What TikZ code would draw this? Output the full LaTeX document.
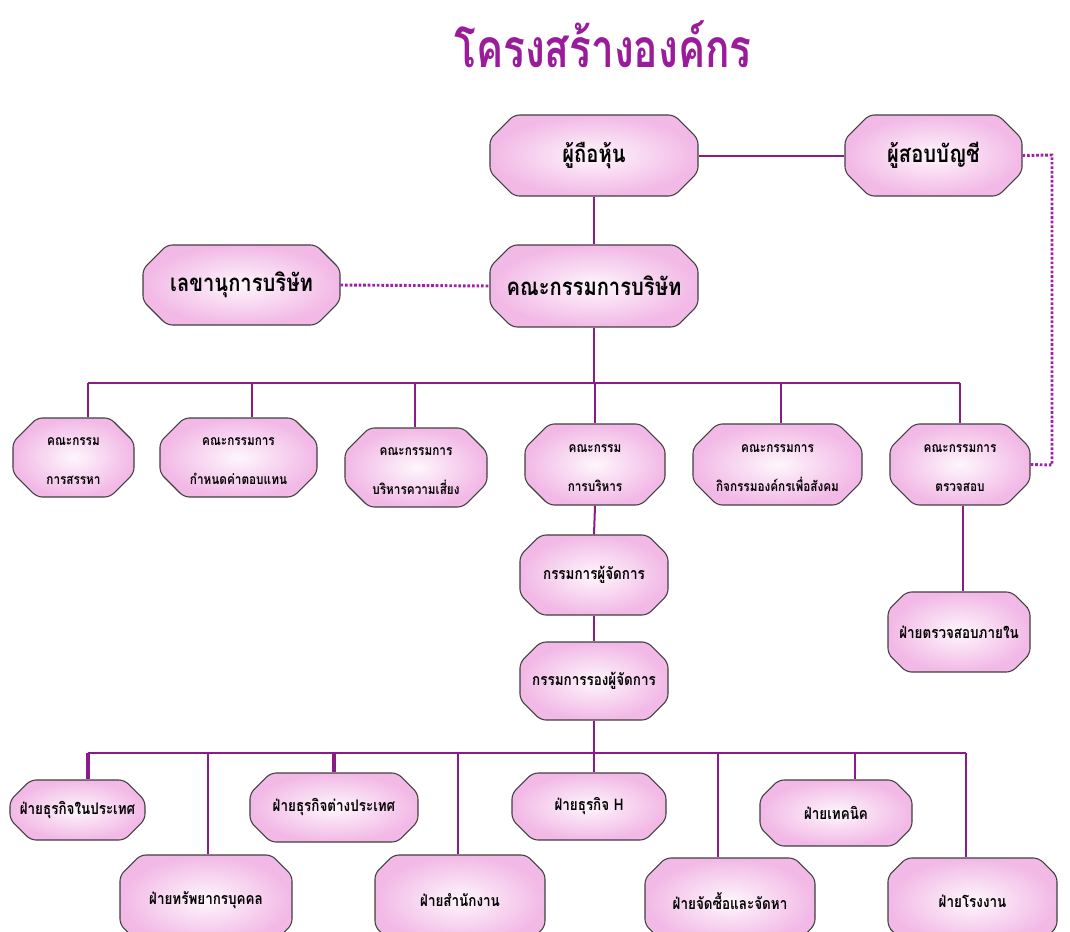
\documentclass[tikz,border=0pt]{standalone}
\usepackage{fontspec}
\newfontfamily\thai[Script=Thai]{Loma}
\newfontfamily\thaic[Script=Thai,FakeStretch=0.84]{Loma}
\newfontfamily\thaiT[Script=Thai,FakeStretch=0.76]{Loma}
\usetikzlibrary{shapes.misc}
\definecolor{linepurple}{HTML}{8B1A8B}
\definecolor{dotpurple}{HTML}{A020A8}
\definecolor{boxpink}{HTML}{F2B8E6}
\definecolor{titlepurple}{HTML}{9A1C9A}
\tikzset{
  box/.style={chamfered rectangle, chamfered rectangle xsep=9pt, chamfered rectangle ysep=9pt,
    rounded corners=4pt, draw=black!75, line width=0.8pt,
    inner color=white!88!boxpink, outer color=boxpink, inner sep=0pt,
    align=center},
  big/.style={font=\thaic\bfseries\fontsize{18}{22}\selectfont},
  comm/.style={font=\thaic\bfseries\fontsize{10.5}{12}\selectfont, text height=40pt},
  mid/.style={font=\thaic\bfseries\fontsize{12}{14}\selectfont},
  conn/.style={draw=linepurple, line width=1.5pt},
  busline/.style={draw=linepurple, line width=2pt},
  thickdrop/.style={draw=linepurple, line width=2.6pt},
  dotconn/.style={draw=dotpurple, line width=2.2pt, dash pattern=on 2pt off 1.4pt},
}
\newcommand\orgbox[7][]{%
  \pgfmathsetmacro\obw{(#5-#3)*0.75}%
  \pgfmathsetmacro\obh{(#6-#4)*0.75}%
  \node[box,minimum width=\obw pt,minimum height=\obh pt,#1] (#2) at ({(#3+#5)/2},{(#4+#6)/2}) {#7};}
\begin{document}
\begin{tikzpicture}[x=0.75pt,y=-0.75pt]
\clip (0,0) rectangle (1070,931);
\fill[white] (0,0) rectangle (1070,931);
% title
\node[font=\thaiT\bfseries\fontsize{40}{44}\selectfont, text=titlepurple] (title) at (603,44) {โครงสร้างองค์กร};
% top
\orgbox[big]{sh}{490}{115}{698}{196}{ผู้ถือหุ้น}
\orgbox[big]{aud}{845}{115}{1022}{196}{ผู้สอบบัญชี}
\orgbox[big]{sec}{143}{245}{340}{325}{เลขานุการบริษัท}
\orgbox[big]{board}{490}{245}{698}{327}{คณะกรรมการบริษัท}
% committees
\orgbox[comm]{c1}{13}{418}{134}{497}{คณะกรรม\\[17pt]การสรรหา}
\orgbox[comm]{c2}{160}{418}{317}{497}{คณะกรรมการ\\[17pt]กำหนดค่าตอบแทน}
\orgbox[comm]{c3}{345}{428}{487}{507}{คณะกรรมการ\\[17pt]บริหารความเสี่ยง}
\orgbox[comm]{c4}{525}{424}{665}{505}{คณะกรรม\\[17pt]การบริหาร}
\orgbox[comm]{c5}{693}{424}{862}{505}{คณะกรรมการ\\[17pt]กิจกรรมองค์กรเพื่อสังคม}
\orgbox[comm]{c6}{890}{424}{1030}{505}{คณะกรรมการ\\[17pt]ตรวจสอบ}
% management
\orgbox[mid]{gm}{520}{535}{668}{615}{กรรมการผู้จัดการ}
\orgbox[mid]{vgm}{520}{642}{668}{720}{กรรมการรองผู้จัดการ}
\orgbox[mid]{ia}{888}{592}{1030}{672}{ฝ่ายตรวจสอบภายใน}
% departments
\orgbox[mid]{dom}{10}{780}{145}{840}{ฝ่ายธุรกิจในประเทศ}
\orgbox[mid]{for}{250}{773}{418}{842}{ฝ่ายธุรกิจต่างประเทศ}
\orgbox[mid]{bh}{512}{773}{666}{840}{ฝ่ายธุรกิจ H}
\orgbox[mid]{tech}{760}{780}{912}{846}{ฝ่ายเทคนิค}
\orgbox[mid]{hr}{120}{855}{292}{945}{ฝ่ายทรัพยากรบุคคล}
\orgbox[mid]{off}{375}{855}{545}{945}{ฝ่ายสำนักงาน}
\orgbox[mid]{pur}{645}{858}{815}{945}{ฝ่ายจัดซื้อและจัดหา}
\orgbox[mid]{fac}{888}{858}{1057}{945}{ฝ่ายโรงงาน}
% connectors: top
\draw[conn] (sh.east) -- (aud.west);
\draw[conn] (sh.south) -- (board.north);
\draw[dotconn] (sec.east) -- (board.west);
\coordinate (dR) at (1052,155);
\coordinate (dB) at (1052,465);
\draw[dotconn] (aud.east) -- (dR) -- (dB) -- (c6.east);
% committee bus
\coordinate (b1L) at (88,383);
\coordinate (b1R) at (960,383);
\coordinate (d2) at (252,383);
\coordinate (d3) at (415,383);
\coordinate (d5) at (781,383);
\draw[conn] (board.south) -- (board.south |- b1L);
\draw[conn] (b1L) -- (b1R);
\draw[conn] (b1L) -- (b1L |- c1.north);
\draw[conn] (d2) -- (d2 |- c2.north);
\draw[conn] (d3) -- (d3 |- c3.north);
\draw[conn] (c4.north |- b1L) -- (c4.north);
\draw[conn] (d5) -- (d5 |- c5.north);
\draw[conn] (b1R) -- (b1R |- c6.north);
% management chain
\draw[conn] (c4.south) -- (gm.north);
\draw[conn] (gm.south) -- (vgm.north);
\coordinate (iaX) at (963,505);
\draw[conn] (iaX |- c6.south) -- (iaX |- ia.north);
% department bus
\coordinate (b2L) at (88,753);
\coordinate (b2R) at (966,753);
\coordinate (e2) at (208,753);
\coordinate (e3) at (334,753);
\coordinate (e4) at (458,753);
\coordinate (e6) at (718,753);
\coordinate (e7) at (855,753);
\draw[busline] (b2L) -- (b2R);
\draw[conn] (vgm.south) -- (vgm.south |- bh.north);
\draw[thickdrop] (b2L) -- (b2L |- dom.north);
\draw[conn] (e2) -- (e2 |- hr.north);
\draw[thickdrop] (e3) -- (e3 |- for.north);
\draw[conn] (e4) -- (e4 |- off.north);
\draw[conn] (e6) -- (e6 |- pur.north);
\draw[conn] (e7) -- (e7 |- tech.north);
\draw[conn] (b2R) -- (b2R |- fac.north);
\end{tikzpicture}
\end{document}
